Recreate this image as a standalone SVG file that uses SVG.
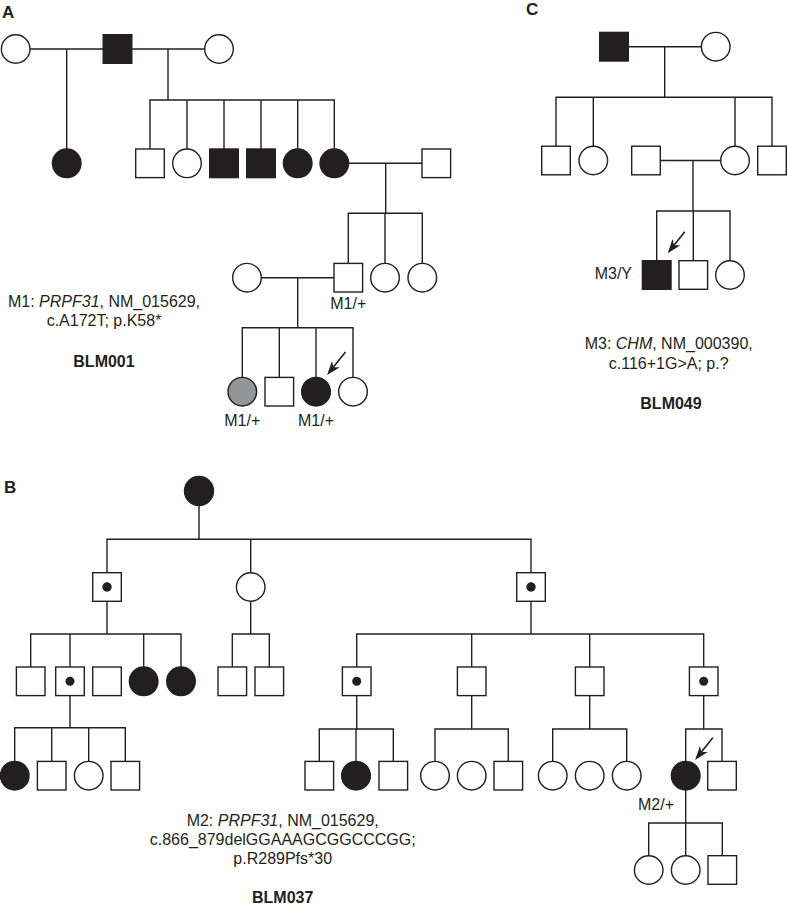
<svg xmlns="http://www.w3.org/2000/svg" width="787" height="906" viewBox="0 0 787 906">
<style>
.ln{fill:none;stroke:#231f20;stroke-width:1.4}
.o{fill:#fff;stroke:#231f20;stroke-width:1.4}
.f{fill:#231f20;stroke:#231f20;stroke-width:1.4}
.g{fill:#939598;stroke:#231f20;stroke-width:1.4}
.dot{fill:#231f20}
.t{font-family:"Liberation Sans",Arial,Helvetica,sans-serif;font-size:16px;fill:#231f20}
.c{text-anchor:middle}
.b{font-weight:bold}
.p{font-family:"Liberation Sans",Arial,Helvetica,sans-serif;font-size:17px;font-weight:bold;fill:#231f20}
.ar{fill:none;stroke:#231f20;stroke-width:1.6;marker-end:url(#ah)}
</style>
<defs>
<marker id="ah" markerUnits="userSpaceOnUse" viewBox="-15 -6 16 12" markerWidth="16" markerHeight="12" refX="-3" refY="0" orient="auto">
<path d="M0,0 L-14,-5 L-10,0 L-14,5 Z" fill="#231f20"/>
</marker>
</defs>
<rect width="787" height="906" fill="#fff"/>

<g id="connectors">
<!-- Panel A -->
<path class="ln" d="M15.7,49 H219 M66.7,49 V163.3 M168,49 V100 M150,163.3 V100 H334.3 V163.3 M187,100 V163.3 M224,100 V163.3 M261,100 V163.3 M297.7,100 V163.3"/>
<path class="ln" d="M334.3,163.3 H436.3 M385.7,163.3 V213.3 M348.3,277.7 V213.3 H422.3 V277.7 M385,213.3 V277.7"/>
<path class="ln" d="M247,277.7 H348.3 M297.7,277.7 V327.7 M242.3,391.7 V327.7 H353 V391.7 M279.3,327.7 V391.7 M316,327.7 V391.7"/>
<!-- Panel C -->
<path class="ln" d="M614,46.7 H715.7 M664.7,46.7 V97.3 M556,160.5 V97.3 H772 V160.5 M593.3,97.3 V160.5 M735,97.3 V160.5"/>
<path class="ln" d="M646,160.5 H735 M693,160.5 V211 M656.7,275 V211 H730 V275 M693.3,211 V275"/>
<!-- Panel B -->
<path class="ln" d="M199,491 V539.3 M107,587 V539.3 H531 V587 M250.7,539.3 V587"/>
<path class="ln" d="M107,587 V634 M30.7,681.3 V634 H181 V681.3 M70,634 V681.3 M143.7,634 V681.3"/>
<path class="ln" d="M250.7,587 V634 M232.3,681.3 V634 H269.3 V681.3"/>
<path class="ln" d="M531,587 V634 M356.7,681.3 V634 H703.7 V681.3 M471.7,634 V681.3 M589.7,634 V681.3"/>
<path class="ln" d="M70,681.3 V727.7 M14.7,775.7 V727.7 H125.3 V775.7 M51.7,727.7 V775.7 M88.7,727.7 V775.7"/>
<path class="ln" d="M356.7,681.3 V729 M319.3,775.7 V729 H393.3 V775.7 M356,729 V775.7"/>
<path class="ln" d="M471.7,681.3 V729 M435,775.7 V729 H508.3 V775.7"/>
<path class="ln" d="M589.7,681.3 V729 M552.7,775.7 V729 H626.7 V775.7"/>
<path class="ln" d="M703.7,681.3 V729 M685.7,775.7 V729 H722 V775.7"/>
<path class="ln" d="M685.7,775.7 V823 M648.7,870 V823 H722.3 V870 M685.7,823 V870"/>
<!-- proband arrows -->
<path class="ar" d="M345.5,352 L329,372.6"/>
<path class="ar" d="M684.8,231.7 L669.6,250.8"/>
<path class="ar" d="M712.8,737.7 L697,757.6"/>
</g>

<!-- Panel A nodes -->
<g id="A-I1"><circle class="o" cx="15.7" cy="49" r="14.3"/></g>
<g id="A-I2"><rect class="f" x="103.2" y="34.7" width="28.6" height="28.6"/></g>
<g id="A-I3"><circle class="o" cx="219" cy="49" r="14.3"/></g>
<g id="A-II1"><circle class="f" cx="66.7" cy="163.3" r="14.3"/></g>
<g id="A-II2"><rect class="o" x="135.7" y="149" width="28.6" height="28.6"/></g>
<g id="A-II3"><circle class="o" cx="187" cy="163.3" r="14.3"/></g>
<g id="A-II4"><rect class="f" x="209.7" y="149" width="28.6" height="28.6"/></g>
<g id="A-II5"><rect class="f" x="246.7" y="149" width="28.6" height="28.6"/></g>
<g id="A-II6"><circle class="f" cx="297.7" cy="163.3" r="14.3"/></g>
<g id="A-II7"><circle class="f" cx="334.3" cy="163.3" r="14.3"/></g>
<g id="A-II8"><rect class="o" x="422" y="149" width="28.6" height="28.6"/></g>
<g id="A-III0"><circle class="o" cx="247" cy="277.7" r="14.3"/></g>
<g id="A-III1"><rect class="o" x="334" y="263.4" width="28.6" height="28.6"/></g>
<g id="A-III2"><circle class="o" cx="385" cy="277.7" r="14.3"/></g>
<g id="A-III3"><circle class="o" cx="422.3" cy="277.7" r="14.3"/></g>
<g id="A-IV1"><circle class="g" cx="242.3" cy="391.7" r="14.3"/></g>
<g id="A-IV2"><rect class="o" x="265" y="377.4" width="28.6" height="28.6"/></g>
<g id="A-IV3"><circle class="f" cx="316" cy="391.7" r="14.3"/></g>
<g id="A-IV4"><circle class="o" cx="353" cy="391.7" r="14.3"/></g>

<!-- Panel C nodes -->
<g id="C-I1"><rect class="f" x="599.7" y="32.4" width="28.6" height="28.6"/></g>
<g id="C-I2"><circle class="o" cx="715.7" cy="46.7" r="14.3"/></g>
<g id="C-II1"><rect class="o" x="541.7" y="146.2" width="28.6" height="28.6"/></g>
<g id="C-II2"><circle class="o" cx="593.3" cy="160.5" r="14.3"/></g>
<g id="C-II3"><rect class="o" x="631.7" y="146.2" width="28.6" height="28.6"/></g>
<g id="C-II4"><circle class="o" cx="735" cy="160.5" r="14.3"/></g>
<g id="C-II5"><rect class="o" x="757.7" y="146.2" width="28.6" height="28.6"/></g>
<g id="C-III1"><rect class="f" x="642.4" y="260.7" width="28.6" height="28.6"/></g>
<g id="C-III2"><rect class="o" x="679" y="260.7" width="28.6" height="28.6"/></g>
<g id="C-III3"><circle class="o" cx="730" cy="275" r="14.3"/></g>

<!-- Panel B nodes -->
<g id="B-I1"><circle class="f" cx="199" cy="491" r="14.5"/></g>
<g id="B-II1"><rect class="o" x="92.7" y="572.7" width="28.6" height="28.6"/><circle class="dot" cx="107" cy="587" r="4.7"/></g>
<g id="B-II2"><circle class="o" cx="250.7" cy="587" r="14.3"/></g>
<g id="B-II3"><rect class="o" x="516.7" y="572.7" width="28.6" height="28.6"/><circle class="dot" cx="531" cy="587" r="4.7"/></g>
<g id="B-III1"><rect class="o" x="16.4" y="667" width="28.6" height="28.6"/></g>
<g id="B-III2"><rect class="o" x="55.7" y="667" width="28.6" height="28.6"/><circle class="dot" cx="70" cy="681.3" r="4.5"/></g>
<g id="B-III3"><rect class="o" x="92.7" y="667" width="28.6" height="28.6"/></g>
<g id="B-III4"><circle class="f" cx="143.7" cy="681.3" r="14.3"/></g>
<g id="B-III5"><circle class="f" cx="181" cy="681.3" r="14.3"/></g>
<g id="B-III6"><rect class="o" x="218" y="667" width="28.6" height="28.6"/></g>
<g id="B-III7"><rect class="o" x="255" y="667" width="28.6" height="28.6"/></g>
<g id="B-III8"><rect class="o" x="342.4" y="667" width="28.6" height="28.6"/><circle class="dot" cx="356.7" cy="681.3" r="4.5"/></g>
<g id="B-III9"><rect class="o" x="457.4" y="667" width="28.6" height="28.6"/></g>
<g id="B-III10"><rect class="o" x="575.4" y="667" width="28.6" height="28.6"/></g>
<g id="B-III11"><rect class="o" x="689.4" y="667" width="28.6" height="28.6"/><circle class="dot" cx="703.7" cy="681.3" r="4.5"/></g>
<g id="B-IV1"><circle class="f" cx="14.7" cy="775.7" r="14.3"/></g>
<g id="B-IV2"><rect class="o" x="37.4" y="761.4" width="28.6" height="28.6"/></g>
<g id="B-IV3"><circle class="o" cx="88.7" cy="775.7" r="14.3"/></g>
<g id="B-IV4"><rect class="o" x="111" y="761.4" width="28.6" height="28.6"/></g>
<g id="B-IV5"><rect class="o" x="305" y="761.4" width="28.6" height="28.6"/></g>
<g id="B-IV6"><circle class="f" cx="356" cy="775.7" r="14.3"/></g>
<g id="B-IV7"><rect class="o" x="379" y="761.4" width="28.6" height="28.6"/></g>
<g id="B-IV8"><circle class="o" cx="435" cy="775.7" r="14.3"/></g>
<g id="B-IV9"><circle class="o" cx="471.7" cy="775.7" r="14.3"/></g>
<g id="B-IV10"><rect class="o" x="494" y="761.4" width="28.6" height="28.6"/></g>
<g id="B-IV11"><circle class="o" cx="552.7" cy="775.7" r="14.3"/></g>
<g id="B-IV12"><circle class="o" cx="589.7" cy="775.7" r="14.3"/></g>
<g id="B-IV13"><circle class="o" cx="626.7" cy="775.7" r="14.3"/></g>
<g id="B-IV14"><circle class="f" cx="685.7" cy="775.7" r="14.3"/></g>
<g id="B-IV15"><rect class="o" x="707.7" y="761.4" width="28.6" height="28.6"/></g>
<g id="B-V1"><circle class="o" cx="648.7" cy="870" r="14.3"/></g>
<g id="B-V2"><circle class="o" cx="685.7" cy="870" r="14.3"/></g>
<g id="B-V3"><rect class="o" x="708" y="855.7" width="28.6" height="28.6"/></g>

<!-- Labels -->
<g id="labels">
<text class="p" x="2" y="18">A</text>
<text class="p" x="526" y="15">C</text>
<text class="p" x="4" y="493">B</text>

<text class="t c" x="348.3" y="309.3">M1/+</text>
<text class="t c" x="242.3" y="426">M1/+</text>
<text class="t c" x="316" y="426">M1/+</text>
<text class="t c" x="104" y="307">M1: <tspan font-style="italic">PRPF31</tspan>, NM_015629,</text>
<text class="t c" x="104" y="325.5">c.A172T; p.K58*</text>
<text class="t c b" x="104" y="366.5">BLM001</text>

<text class="t" x="632" y="279" text-anchor="end">M3/Y</text>
<text class="t c" x="668.7" y="349.3">M3: <tspan font-style="italic">CHM</tspan>, NM_000390,</text>
<text class="t c" x="668.7" y="369.3">c.116+1G&gt;A; p.?</text>
<text class="t c b" x="671" y="409.3">BLM049</text>

<text class="t" x="674" y="810" text-anchor="end">M2/+</text>
<text class="t c" x="282.7" y="826">M2: <tspan font-style="italic">PRPF31</tspan>, NM_015629,</text>
<text class="t c" x="282.7" y="845">c.866_879delGGAAAGCGGCCCGG;</text>
<text class="t c" x="282.7" y="864">p.R289Pfs*30</text>
<text class="t c b" x="282.7" y="903.3">BLM037</text>
</g>
</svg>
